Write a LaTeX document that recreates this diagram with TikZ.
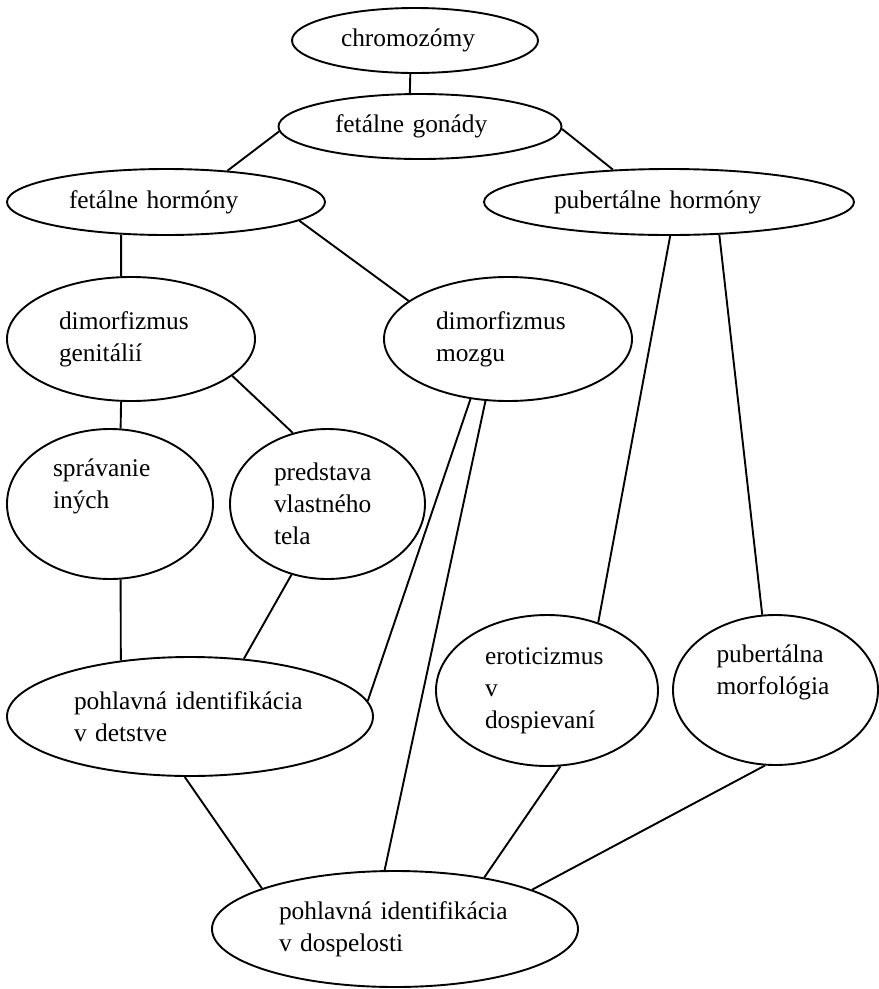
\documentclass[tikz,border=0pt]{standalone}
\usepackage{fontspec}
\setmainfont{Liberation Serif}
\usetikzlibrary{shapes.geometric}
\hyphenpenalty=10000

\begin{document}
\begin{tikzpicture}[x=10pt, y=-10pt,
    oval/.style={ellipse, draw, line width=1.9pt, align=left, inner sep=2pt,
      font=\fontsize{25.4}{32}\selectfont},
    link/.style={line width=1.9pt}]

  \useasboundingbox (0, 0) rectangle (87.9, 98.9);

  % chromozomy, gonady
  \node[oval, minimum width=246pt, minimum height=65pt, text width=148pt] (chrom) at (41.5, 4.05) {chromozómy};
  \node[oval, minimum width=283pt, minimum height=65pt, text width=170pt] (gon) at (42.0, 12.65) {fetálne gonády};
  \draw[link] (chrom.262) -- (gon.107);

  % hormony
  \node[oval, minimum width=318pt, minimum height=66pt, text width=194pt] (feth) at (16.6, 20.2) {fetálne hormóny};
  \node[oval, minimum width=370pt, minimum height=66pt, text width=230pt] (pubh) at (66.9, 20.2) {pubertálne hormóny};
  \draw[link] (gon.182) -- (feth.27);
  \draw[link] (gon.-1) -- (pubh.150);

  % dimorfizmus
  \node[oval, minimum width=248pt, minimum height=124pt, text width=144pt] (genit) at (13.1, 33.9) {dimorfizmus\\genitálií};
  \node[oval, minimum width=248pt, minimum height=124pt, text width=144pt] (mozg) at (50.8, 33.9) {dimorfizmus\\mozgu};
  \draw[link] (feth.216) -- (genit.99);
  \draw[link] (feth.-8) -- (mozg.159);

  % spravanie, predstava
  \node[oval, minimum width=206pt, minimum height=150pt, text width=114pt] (sprav) at (11.0, 50.4) {správanie\\iných\\\strut};
  \node[oval, minimum width=195pt, minimum height=150pt, text width=107pt] (pred) at (32.75, 50.4) {predstava\\vlastného\\tela};
  \draw[link] (genit.261) -- (sprav.82);
  \draw[link] (genit.-20) -- (pred.116);

  % detstvo
  \node[oval, minimum width=366pt, minimum height=119pt, text width=232pt] (detst) at (19.0, 71.65) {pohlavná identifikácia\\v detstve};
  \draw[link] (sprav.278) -- (detst.141);
  \draw[link] (pred.243) -- (detst.47);
  \draw[link] (mozg.238) -- (detst.5);

  % pubertalne
  \node[oval, minimum width=222pt, minimum height=151pt, text width=124pt] (erot) at (54.7, 69.05) {eroticizmus\\v\\dospievaní};
  \node[oval, minimum width=205pt, minimum height=150pt, text width=118pt] (morf) at (77.55, 69.0) {pubertálna\\morfológia\\\strut};
  \draw[link] (pubh.272) -- (erot.53);
  \draw[link] (pubh.-33) -- (morf.100);

  % dospelost
  \node[oval, minimum width=366pt, minimum height=116pt, text width=232pt] (dosp) at (39.5, 92.9) {pohlavná identifikácia\\v dospelosti};
  \draw[link] (mozg.250) -- (dosp.100);
  \draw[link] (detst.265) -- (dosp.163);
  \draw[link] (erot.280) -- (dosp.30);
  \draw[link] (morf.262) -- (dosp.16);

\end{tikzpicture}
\end{document}
